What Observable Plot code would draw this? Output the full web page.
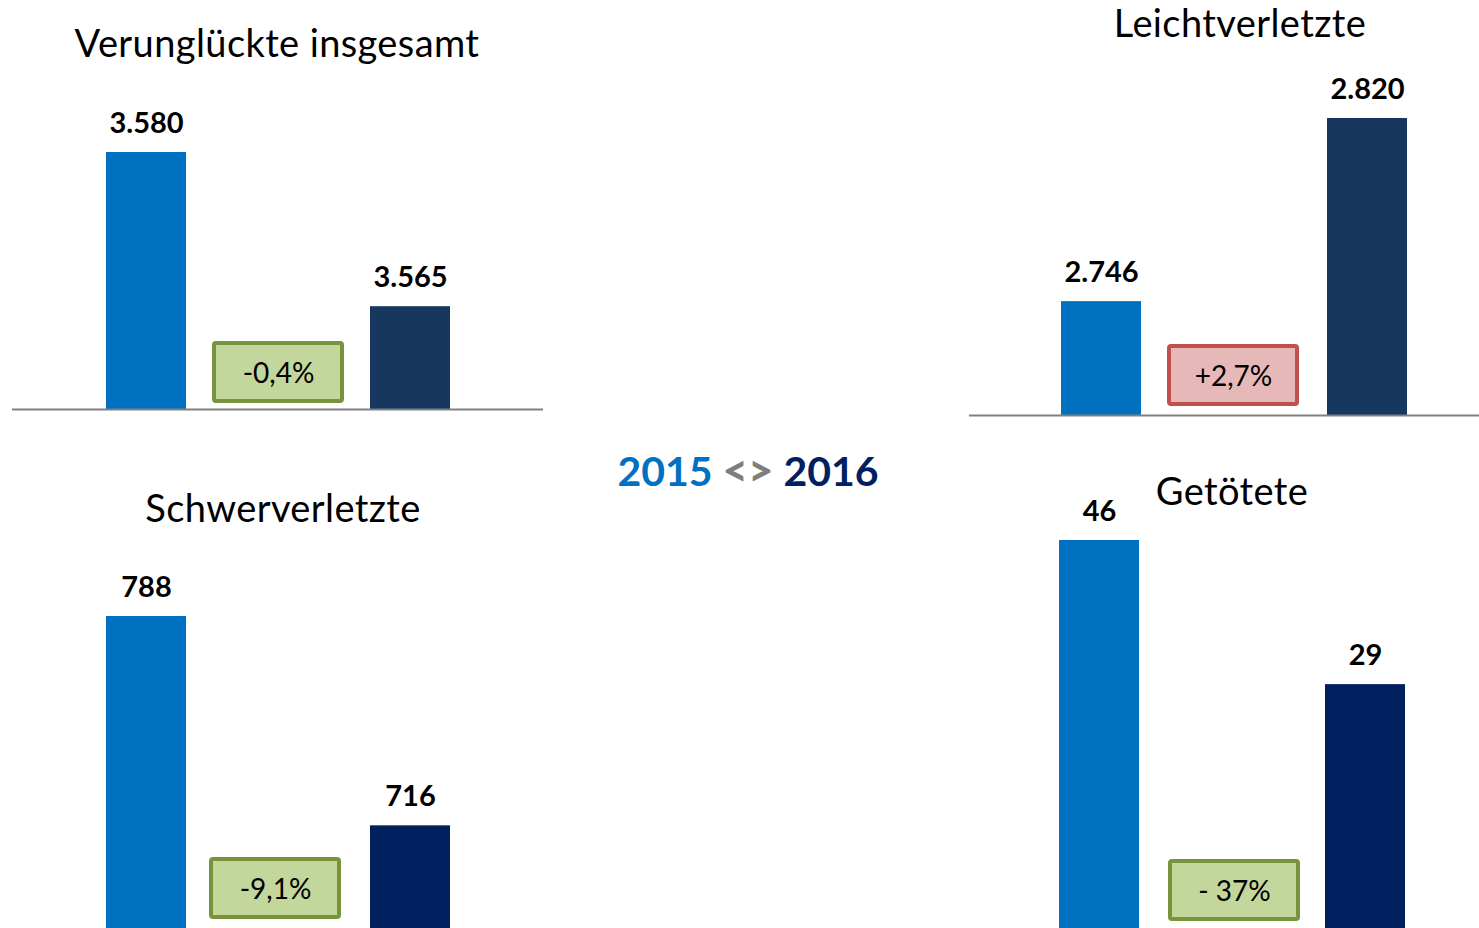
<!DOCTYPE html>
<html><head><meta charset="utf-8">
<script src="https://cdn.jsdelivr.net/npm/d3@7"></script>
<script src="https://cdn.jsdelivr.net/npm/@observablehq/plot@0.6"></script>
<style>
html,body{margin:0;padding:0;background:#fff;}
#page{position:relative;width:1479px;height:928px;overflow:hidden;font-family:Lato,sans-serif;}
.title{position:absolute;font-size:38px;letter-spacing:0.4px;line-height:1;white-space:nowrap;transform:translateX(-50%);color:#000;}
.panel{position:absolute;}
#years{position:absolute;font-size:41px;font-weight:bold;line-height:1;white-space:nowrap;transform:translateX(-50%);}
#years .sep{color:#7F7F7F;font-size:44px;font-weight:900;}
</style></head><body><div id="page"></div>
<script>
// ---- data ----
const panelTitles = ["Verunglückte insgesamt", "Leichtverletzte", "Schwerverletzte", "Getötete"];
const years = ["2015", "2016"];
const values2015 = [3580, 2746, 788, 46];
const values2016 = [3565, 2820, 716, 29];
const changeLabels = ["-0,4%", "+2,7%", "-9,1%", "- 37%"];
const changeUp = [false, true, false, false];

// ---- layout / style ----
const blue = "#0070C0";
const titleSize = 38;
const layout = [
  {left:0,   top:0,   width:543, height:411, mt:152, mb:2, ml:12, xr:[52.5,502.5], floor:3555, rule:true,  dark:"#17375E", boxGap:6,  boxShift:0,  tx:277,  tbase:57},
  {left:960, top:0,   width:519, height:417, mt:118, mb:2, ml:9,  xr:[48,500],     floor:2700, rule:true,  dark:"#17375E", boxGap:9,  boxShift:-1, tx:1240, tbase:37},
  {left:0,   top:440, width:543, height:490, mt:176, mb:0, ml:12, xr:[52.5,502.5], floor:680,  rule:false, dark:"#002060", boxGap:11, boxShift:-3, tx:283,  tbase:522},
  {left:960, top:440, width:519, height:490, mt:100, mb:0, ml:9,  xr:[46,498],     floor:0,    rule:false, dark:"#002060", boxGap:9,  boxShift:2,  tx:1232, tbase:505}
];
const pad = 0.396;
const fmt = d3.formatLocale({decimal:",", thousands:".", grouping:[3], currency:["", "€"]}).format(",d");
const page = document.getElementById("page");

layout.forEach((L, i) => {
  const data = years.map((y, j) => ({year: y, value: j ? values2016[i] : values2015[i]}));
  const marks = [
    Plot.barY(data, {x: "year", y1: () => L.floor, y2: "value", fill: "year"}),
    Plot.text(data, {x: "year", y: "value", text: d => fmt(d.value), dy: -20, lineAnchor: "bottom",
      fontSize: 29, fontWeight: "bold", fill: "#000", fontFamily: "Lato"})
  ];
  if (L.rule) marks.push(Plot.ruleY([L.floor], {stroke: "#808080", strokeWidth: 2}));
  marks.push(Plot.text([changeLabels[i]], {x: () => "change", frameAnchor: "bottom", dx: L.boxShift, dy: -(L.boxGap + 29),
    text: d => d, fontSize: 28, lineAnchor: "middle", fill: "#000", fontFamily: "Lato"}));
  const plot = Plot.plot({
    width: L.width, height: L.height,
    marginTop: L.mt, marginBottom: L.mb, marginLeft: L.ml, marginRight: 0,
    x: {domain: ["2015", "change", "2016"], range: L.xr, padding: pad, axis: null},
    y: {domain: [L.floor, Math.max(values2015[i], values2016[i])], axis: null},
    color: {domain: years, range: [blue, L.dark]},
    style: {background: "transparent", overflow: "visible"},
    marks
  });
  const xs = plot.scale("x");
  const cx = xs.apply("change") + xs.bandwidth / 2 + L.boxShift;
  const fb = L.height - L.mb;
  const rect = document.createElementNS("http://www.w3.org/2000/svg", "rect");
  d3.select(rect)
    .attr("x", cx - 64).attr("y", fb - L.boxGap - 60)
    .attr("width", 128).attr("height", 58).attr("rx", 2)
    .attr("fill", changeUp[i] ? "#E6B9B8" : "#C3D69B")
    .attr("stroke", changeUp[i] ? "#C0504D" : "#77933C")
    .attr("stroke-width", 4);
  plot.insertBefore(rect, plot.lastChild);
  plot.classList.add("panel");
  plot.style.left = L.left + "px";
  plot.style.top = L.top + "px";
  plot.style.position = "absolute";
  page.appendChild(plot);

  const t = document.createElement("div");
  t.className = "title";
  t.textContent = panelTitles[i];
  t.style.left = L.tx + "px";
  t.style.top = (L.tbase - 0.887 * titleSize) + "px";
  page.appendChild(t);
});

const hdr = document.createElement("div");
hdr.id = "years";
hdr.innerHTML = `<span style="color:${blue}">${years[0]}</span> <span class="sep">&lt;&gt;</span> <span style="color:#002060">${years[1]}</span>`;
hdr.style.left = "748px";
hdr.style.top = (483 - 0.887 * 41) + "px";
page.appendChild(hdr);
</script>
</body></html>
